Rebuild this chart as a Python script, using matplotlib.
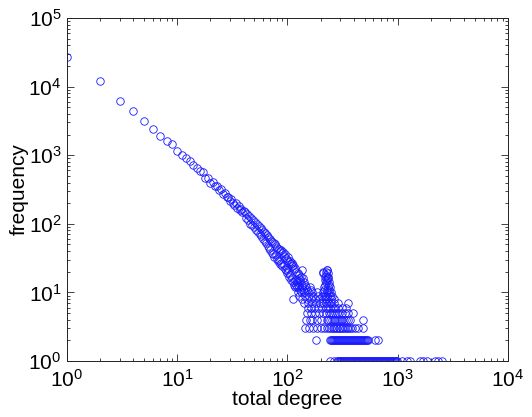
import matplotlib
matplotlib.use('Agg')
import matplotlib.pyplot as plt
from matplotlib.ticker import LogLocator, NullFormatter, FixedLocator

plt.rcParams['font.family'] = ['Liberation Sans', 'DejaVu Sans']
plt.rcParams['mathtext.fontset'] = 'custom'
plt.rcParams['mathtext.rm'] = 'Liberation Sans'
plt.rcParams['mathtext.it'] = 'Liberation Sans'

# degree distribution, low degrees (one point per degree)
deg_head = list(range(1, 121))
freq_head = [27300, 12200, 6240, 4400, 3120, 2410, 1920, 1610, 1470, 1140,
             1010, 910, 820, 730, 650, 585, 560, 470, 470, 400,
             405, 350, 352, 310, 318, 270, 284, 246, 250, 218,
             232, 200, 190, 198, 170, 181, 158, 166, 147, 156,
             150, 122, 138, 112, 131, 100, 120, 96, 112, 89,
             106, 80, 98, 76, 92, 71, 87, 66, 81, 61,
             77, 56, 73, 52, 69, 48, 64, 45, 60, 42,
             57, 38, 55, 36, 52, 33, 50, 35, 47, 31,
             45, 29, 43, 30, 40, 26, 41, 27, 37, 24,
             39, 25, 34, 22, 36, 21, 32, 23, 30, 19,
             33, 20, 28, 17, 29, 18, 26, 15, 27, 16,
             24, 14, 25, 13, 22, 15, 23, 12, 20, 13]

# tail: degrees observed at each (small) frequency value
tail_levels = {
    1: [243, 262, 280, 286, 292, 298, 304, 311, 317, 324, 331, 338, 345, 352,
        360, 367, 375, 383, 391, 399, 408, 416, 425, 434, 443, 453, 462, 472,
        482, 492, 503, 513, 524, 535, 547, 558, 570, 582, 595, 607, 620, 633,
        647, 660, 674, 689, 703, 718, 733, 749, 765, 781, 797, 814, 832, 849,
        867, 886, 905, 924, 943, 962, 980, 1086, 1205, 1291, 1592, 1706,
        1832, 2178, 2334, 2505],
    2: [180, 243, 248, 253, 259, 264, 270, 275, 281, 287, 293, 299, 306, 312,
        319, 325, 332, 339, 346, 354, 361, 369, 376, 384, 392, 401, 409, 418,
        427, 436, 445, 454, 464, 474, 484, 494, 504, 515, 526, 537, 625, 660],
    3: [145, 158, 172, 186, 200, 215, 230, 240, 250, 258, 266, 275, 284, 293,
        302, 312, 322, 332, 343, 355, 368, 385, 410, 440, 488],
    4: [148, 160, 168, 184, 200, 226, 235, 244, 253, 262, 272, 282, 292, 303,
        314, 326, 340, 355, 372, 480],
    5: [150, 165, 178, 195, 212, 225, 236, 246, 256, 268, 280, 295, 310, 330,
        355, 395],
    6: [152, 162, 175, 190, 205, 222, 232, 245, 258, 272, 290, 310, 340],
    7: [140, 155, 168, 182, 198, 212, 225, 238, 250, 265, 285, 355],
    8: [113, 135, 150, 163, 178, 195, 210, 222, 234, 248, 262],
    9: [128, 145, 158, 172, 188, 205, 218, 230, 242, 255],
    10: [124, 133, 142, 155, 168, 186, 208, 226, 238, 250],
    11: [130, 139, 150, 165, 214, 228, 240],
    12: [122, 127, 136, 146, 160, 216, 232, 244],
    13: [125, 134, 144, 220, 236],
    14: [121, 131, 140, 224, 238],
    15: [123, 129, 219, 230],
    16: [126, 137, 227, 234],
    17: [132, 221, 233],
    18: [128, 225],
    19: [125, 231, 208],
    20: [222, 211],
    21: [134, 229, 230],
}

deg = list(deg_head)
freq = list(freq_head)
for f, ks in tail_levels.items():
    deg += ks
    freq += [f] * len(ks)

fig = plt.figure(figsize=(5.32, 4.17), dpi=100)
ax = fig.add_axes([0.1259, 0.1343, 0.8290, 0.8225])

ax.loglog(deg, freq, 'o', markerfacecolor='none', markeredgecolor='#1a1aff',
          markersize=5.4, markeredgewidth=0.6, linestyle='none')

ax.set_xlim(1, 1e4)
ax.set_ylim(1, 1e5)

ax.xaxis.set_major_locator(FixedLocator([1, 10, 100, 1000, 10000]))
ax.yaxis.set_major_locator(FixedLocator([1, 10, 100, 1000, 10000, 100000]))
ax.set_xticklabels([r'$10^{%d}$' % i for i in range(5)])
ax.set_yticklabels([r'$10^{%d}$' % i for i in range(6)])
ax.xaxis.set_minor_locator(LogLocator(base=10, subs=range(2, 10), numticks=20))
ax.yaxis.set_minor_locator(LogLocator(base=10, subs=range(2, 10), numticks=20))
ax.xaxis.set_minor_formatter(NullFormatter())
ax.yaxis.set_minor_formatter(NullFormatter())

ax.tick_params(which='both', direction='in', top=True, right=True,
               labelsize=15, width=0.6, color='#222222')
ax.tick_params(which='major', length=5)
ax.tick_params(axis='x', which='major', pad=6)
ax.tick_params(axis='y', which='major', pad=4)
ax.tick_params(which='minor', length=2.5)
for s in ax.spines.values():
    s.set_linewidth(0.7)
    s.set_color('#222222')

ax.set_xlabel('total degree', fontsize=15, labelpad=-1)
ax.set_ylabel('frequency', fontsize=15, labelpad=0)

fig.savefig('out.png', dpi=100)
